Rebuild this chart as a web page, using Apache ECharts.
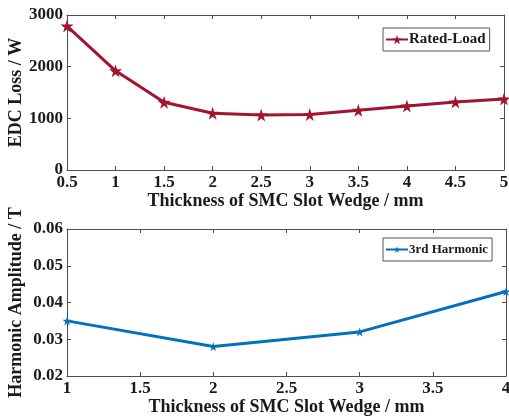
<!DOCTYPE html>
<html>
<head>
<meta charset="utf-8">
<script src="https://cdn.jsdelivr.net/npm/echarts@6/dist/echarts.min.js"></script>
<style>
html,body{margin:0;padding:0;background:#fff;}
#chart{width:509px;height:416px;}
</style>
</head>
<body>
<div id="chart"></div>
<script>
// Eddy-current loss vs wedge thickness (top panel)
const thicknessLoss = [0.5, 1, 1.5, 2, 2.5, 3, 3.5, 4, 4.5, 5];
const edcLoss = [2785, 1920, 1310, 1097, 1065, 1075, 1158, 1238, 1315, 1372];
// 3rd harmonic amplitude vs wedge thickness (bottom panel)
const thicknessHarm = [1, 2, 3, 4];
const harmAmp = [0.035, 0.028, 0.032, 0.043];

const FONT = '"Liberation Serif", "Times New Roman", serif';
const STAR = 'path://M50,0 L61,35 L98,35 L68,57 L79,91 L50,70 L21,91 L32,57 L2,35 L39,35 Z';
const red = '#A2142F';
const blue = '#0072BD';
const axisColor = '#4d4d4d';

function xAxisPair(gridIndex, min, max, name, nameGap) {
  return [
    {
      type: 'value', gridIndex, min, max, interval: 0.5, position: 'bottom',
      name, nameLocation: 'middle', nameGap, nameMoveOverlap: false,
      nameTextStyle: {fontFamily: FONT, fontWeight: 'bold', fontSize: 18, color: '#1a1a1a'},
      axisLine: {show: true, onZero: false, lineStyle: {color: axisColor, width: 1}},
      axisTick: {show: true, inside: true, length: 4, lineStyle: {color: axisColor}},
      axisLabel: {fontFamily: FONT, fontWeight: 'bold', fontSize: 17, color: '#1a1a1a', margin: 4},
      splitLine: {show: false}
    },
    {
      type: 'value', gridIndex, min, max, interval: 0.5, position: 'top',
      axisLine: {show: true, onZero: false, lineStyle: {color: axisColor, width: 1}},
      axisTick: {show: true, inside: true, length: 4, lineStyle: {color: axisColor}},
      axisLabel: {show: false}, splitLine: {show: false}
    }
  ];
}
function yAxisPair(gridIndex, min, max, interval, name, nameGap, fmt) {
  return [
    {
      type: 'value', gridIndex, min, max, interval, position: 'left',
      name, nameLocation: 'middle', nameGap, nameMoveOverlap: false,
      nameTextStyle: {fontFamily: FONT, fontWeight: 'bold', fontSize: 18, color: '#1a1a1a'},
      axisLine: {show: true, onZero: false, lineStyle: {color: axisColor, width: 1}},
      axisTick: {show: true, inside: true, length: 4, lineStyle: {color: axisColor}},
      axisLabel: {fontFamily: FONT, fontWeight: 'bold', fontSize: 17, color: '#1a1a1a', margin: 4,
        formatter: fmt},
      splitLine: {show: false}
    },
    {
      type: 'value', gridIndex, min, max, interval, position: 'right',
      axisLine: {show: true, onZero: false, lineStyle: {color: axisColor, width: 1}},
      axisTick: {show: true, inside: true, length: 4, lineStyle: {color: axisColor}},
      axisLabel: {show: false}, splitLine: {show: false}
    }
  ];
}

const chart = echarts.init(document.getElementById('chart'), null, {renderer: 'canvas'});
chart.setOption({
  animation: false,
  backgroundColor: '#fff',
  grid: [
    {left: 67, top: 15, width: 437, height: 155, outerBoundsMode: 'none', containLabel: false},
    {left: 67, top: 229, width: 439, height: 147, outerBoundsMode: 'none', containLabel: false}
  ],
  xAxis: [
    ...xAxisPair(0, 0.5, 5, 'Thickness of SMC Slot Wedge / mm', 22),
    ...xAxisPair(1, 1, 4, 'Thickness of SMC Slot Wedge / mm', 22)
  ],
  yAxis: [
    ...yAxisPair(0, 0, 3000, 1000, 'EDC Loss / W', 42, v => String(v)),
    ...yAxisPair(1, 0.02, 0.06, 0.01, 'Harmonic Amplitude / T', 42, v => v.toFixed(2))
  ],
  legend: [
    {
      data: ['Rated-Load'], left: 383, top: 28,
      backgroundColor: '#fff', borderColor: '#555', borderWidth: 1,
      padding: [4, 4, 4, 2], itemWidth: 22, itemHeight: 12, itemGap: 2,
      textStyle: {fontFamily: FONT, fontWeight: 'bold', fontSize: 15, color: '#1a1a1a', padding: [0,0,0,-4]}
    },
    {
      data: ['3rd Harmonic'], left: 383, top: 238,
      backgroundColor: '#fff', borderColor: '#555', borderWidth: 1,
      padding: [5, 4, 5, 2], itemWidth: 22, itemHeight: 8, itemGap: 2,
      textStyle: {fontFamily: FONT, fontWeight: 'bold', fontSize: 13, color: '#1a1a1a', padding: [0,0,0,-4]}
    }
  ],
  series: [
    {
      name: 'Rated-Load', type: 'line', xAxisIndex: 0, yAxisIndex: 0,
      data: thicknessLoss.map((x, i) => [x, edcLoss[i]]),
      symbol: STAR, symbolSize: 13, showAllSymbol: true,
      lineStyle: {color: red, width: 3}, itemStyle: {color: red},
      clip: false
    },
    {
      name: '3rd Harmonic', type: 'line', xAxisIndex: 2, yAxisIndex: 2,
      data: thicknessHarm.map((x, i) => [x, harmAmp[i]]),
      symbol: STAR, symbolSize: 9, showAllSymbol: true,
      lineStyle: {color: blue, width: 3}, itemStyle: {color: blue},
      clip: false
    }
  ]
});
</script>
</body>
</html>
